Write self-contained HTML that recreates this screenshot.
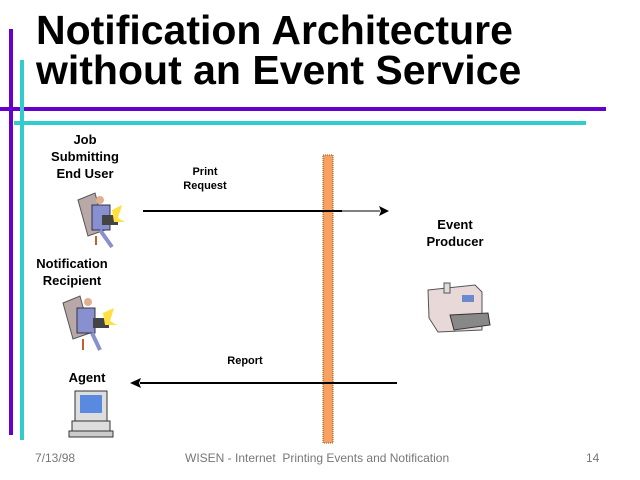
<!DOCTYPE html>
<html><head><style>
body{margin:0;width:640px;height:480px;background:#fff;position:relative;overflow:hidden;font-family:"Liberation Sans",sans-serif}
.a{position:absolute}
.t{position:absolute;left:36px;font-weight:bold;font-size:41px;line-height:40px;color:#000;white-space:nowrap}
.l{position:absolute;font-weight:bold;font-size:13px;line-height:17px;text-align:center;color:#000}
.f{position:absolute;top:451px;font-size:12px;color:#777}
</style></head><body>
<div class="t" style="top:10px">Notification Architecture</div>
<div class="t" style="top:50px">without an Event Service</div>
<div class="a" style="left:9px;top:29px;width:4px;height:406px;background:#6600cc"></div>
<div class="a" style="left:0;top:107px;width:606px;height:4px;background:#6600cc"></div>
<div class="a" style="left:20px;top:60px;width:4px;height:380px;background:#33cccc"></div>
<div class="a" style="left:14px;top:121px;width:572px;height:4px;background:#33cccc"></div>

<div class="l" style="left:35px;top:131px;width:100px">Job<br>Submitting<br>End User</div>
<div class="l" style="left:170px;top:165px;width:70px;font-size:11px;line-height:14px">Print<br>Request</div>
<div class="l" style="left:405px;top:216px;width:100px">Event<br>Producer</div>
<div class="l" style="left:22px;top:255px;width:100px">Notification<br>Recipient</div>
<div class="l" style="left:210px;top:353px;width:70px;font-size:11px">Report</div>
<div class="l" style="left:57px;top:369px;width:60px">Agent</div>

<svg class="a" style="left:0;top:0" width="640" height="480">
<rect x="323" y="155" width="10" height="288" fill="#f7a060" stroke="#a05020" stroke-dasharray="1,1"/>
<line x1="143" y1="211" x2="342" y2="211" stroke="#000" stroke-width="2"/>
<line x1="342" y1="211" x2="380" y2="211" stroke="#000" stroke-width="1"/>
<polygon points="389,211 379,206 381,211 379,216" fill="#000"/>
<line x1="140" y1="383" x2="397" y2="383" stroke="#000" stroke-width="2"/>
<polygon points="130,383 141,378 139,383 141,388" fill="#000"/>
<g>
<polygon points="78,200 95,193 105,230 88,236" fill="#b8a8a8" stroke="#555"/>
<rect x="92" y="205" width="18" height="25" fill="#8890d0" stroke="#334"/>
<circle cx="100" cy="200" r="4" fill="#e0b090"/>
<rect x="102" y="215" width="16" height="10" fill="#444"/>
<polygon points="112,210 122,205 118,218 125,222 114,222" fill="#ffe040"/>
<line x1="96" y1="236" x2="96" y2="245" stroke="#c06030" stroke-width="2"/>
<line x1="100" y1="230" x2="112" y2="247" stroke="#8890d0" stroke-width="4"/>
</g>
<g>
<polygon points="63,303 80,296 90,333 73,339" fill="#b8a8a8" stroke="#555"/>
<rect x="77" y="308" width="18" height="25" fill="#8890d0" stroke="#334"/>
<circle cx="88" cy="302" r="4" fill="#e0b090"/>
<rect x="93" y="318" width="16" height="10" fill="#444"/>
<polygon points="103,313 114,308 110,321 117,325 105,325" fill="#ffe040"/>
<line x1="83" y1="339" x2="83" y2="350" stroke="#c06030" stroke-width="2"/>
<line x1="92" y1="333" x2="100" y2="350" stroke="#8890d0" stroke-width="4"/>
</g>
<rect x="75" y="391" width="32" height="30" fill="#ddd" stroke="#333"/>
<rect x="80" y="395" width="22" height="18" fill="#5a8ae0"/>
<rect x="72" y="421" width="38" height="10" fill="#ddd" stroke="#333"/>
<rect x="69" y="431" width="44" height="6" fill="#ccc" stroke="#333"/>
<polygon points="428,290 475,285 482,292 482,330 438,332 429,318" fill="#e8d8d8" stroke="#555"/>
<rect x="444" y="283" width="6" height="10" fill="#ddd" stroke="#555"/>
<rect x="462" y="295" width="12" height="7" fill="#6a8ad0"/>
<polygon points="450,315 488,313 490,325 454,330" fill="#888" stroke="#333"/>
</svg>

<div class="f" style="left:35px">7/13/98</div>
<div class="f" style="left:185px">WISEN - Internet&nbsp; Printing Events and Notification</div>
<div class="f" style="left:586px">14</div>
</body></html>
